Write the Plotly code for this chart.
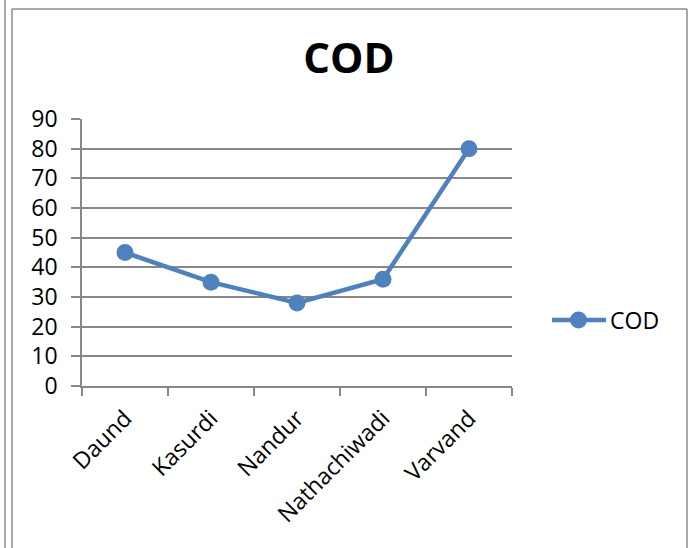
import plotly.graph_objects as go

# COD readings per sampling site
sites = ["Daund", "Kasurdi", "Nandur", "Nathachiwadi", "Varvand"]
cod_values = [45, 35, 28, 36, 80]
y_ticks = [0, 10, 20, 30, 40, 50, 60, 70, 80, 90]

W, H = 691, 548
L, R, T, B = 82, 179, 119, 162
GRID = "#888888"
BLUE = "#4F81BD"
FONT = "Open Sans"

fig = go.Figure()
fig.add_trace(go.Scatter(
    x=sites, y=cod_values, name="COD", mode="lines+markers",
    line=dict(color=BLUE, width=4.5),
    marker=dict(color=BLUE, size=17, symbol="circle"),
    showlegend=False,
))

pw, ph = W - L - R, H - T - B
def px(x):
    return (x - L) / pw
def py(y):
    return (H - B - y) / ph

# outer frame: double rule on the left, single rule at top and right
frame = dict(color="#8c8c8c", width=1.5)
shapes = [
    dict(type="line", xref="paper", yref="paper", x0=px(5), x1=px(5), y0=py(0), y1=py(H), line=frame),
    dict(type="line", xref="paper", yref="paper", x0=px(12), x1=px(12), y0=py(9), y1=py(H), line=frame),
    dict(type="line", xref="paper", yref="paper", x0=px(12), x1=px(687), y0=py(9), y1=py(9), line=frame),
    dict(type="line", xref="paper", yref="paper", x0=px(687), x1=px(687), y0=py(9), y1=py(H), line=frame),
]

# legend key: line with a centred marker, followed by the series name
ky = 320
shapes += [
    dict(type="line", xref="paper", yref="paper", x0=px(552), x1=px(606), y0=py(ky), y1=py(ky),
         line=dict(color=BLUE, width=4.5)),
    dict(type="circle", xref="paper", yref="paper", x0=px(570), x1=px(587), y0=py(ky + 8.5), y1=py(ky - 8.5),
         fillcolor=BLUE, line=dict(color=BLUE, width=0)),
]
annotations = [
    dict(text="COD", xref="paper", yref="paper", x=px(608), y=py(ky), xanchor="left", yanchor="middle",
         showarrow=False, font=dict(family=FONT, size=23, color="black")),
]

fig.update_layout(
    width=W, height=H, autosize=False,
    margin=dict(l=L, r=R, t=T, b=B),
    paper_bgcolor="white", plot_bgcolor="white",
    font=dict(family=FONT, color="black", size=20),
    title=dict(text="<b>COD</b>", x=px(349), xref="paper", xanchor="center",
               y=1 - 58 / H, yref="container", yanchor="middle",
               font=dict(family=FONT, size=42, color="black")),
    shapes=shapes,
    annotations=annotations,
    showlegend=False,
    xaxis=dict(
        type="category", tickson="boundaries", tickangle=-45, range=[-0.5, 4.5],
        showline=True, linecolor=GRID, linewidth=1.5,
        ticks="outside", ticklen=8, tickcolor=GRID, tickwidth=1.5,
        showgrid=False, zeroline=False, ticklabelstandoff=8,
        tickfont=dict(family=FONT, size=23),
    ),
    yaxis=dict(
        range=[0, 90], tickvals=y_ticks, ticktext=[str(v) for v in y_ticks],
        showline=True, linecolor=GRID, linewidth=1.5,
        showgrid=True, gridcolor=GRID, gridwidth=1.5,
        ticks="outside", ticklen=9, tickcolor=GRID, tickwidth=1.5,
        zeroline=False, ticklabelstandoff=9,
        tickfont=dict(family=FONT, size=23),
    ),
)

fig.write_html("out.html")
